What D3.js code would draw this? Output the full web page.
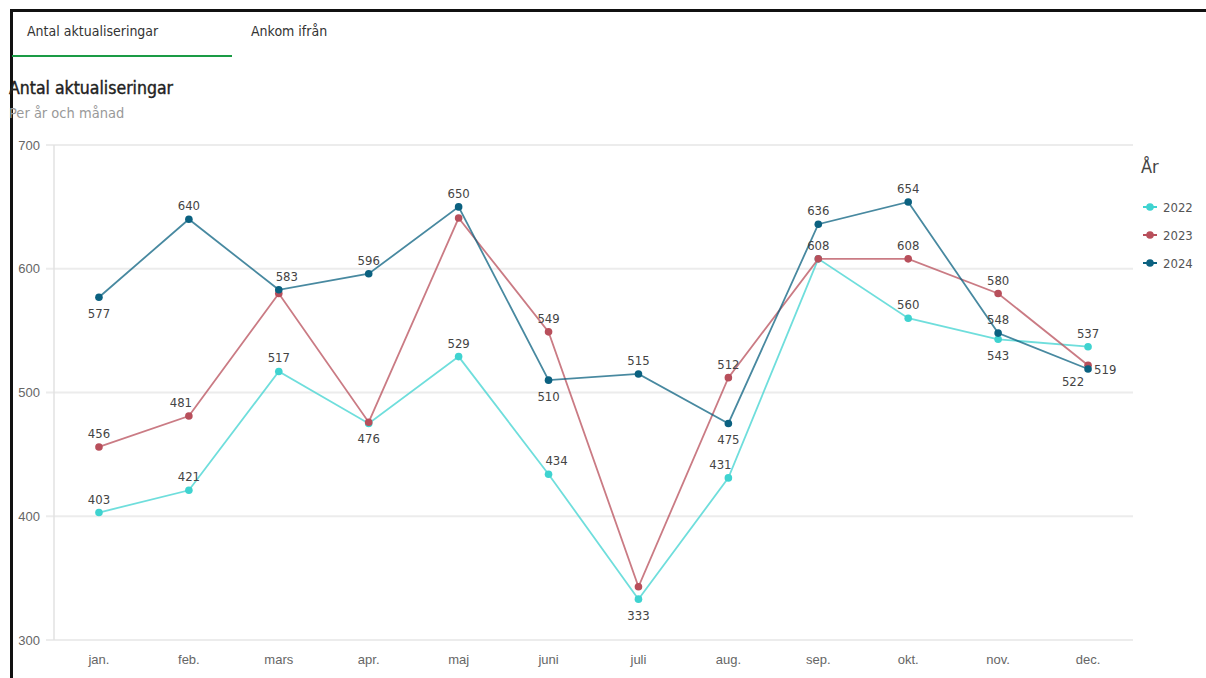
<!DOCTYPE html>
<html>
<head>
<meta charset="utf-8">
<script src="https://cdn.jsdelivr.net/npm/d3@7"></script>
<style>
  body { margin: 0; background: #fff; }
  svg { display: block; font-family: "Liberation Sans Narrow", "DejaVu Sans Condensed", Roboto, sans-serif; }
</style>
</head>
<body>
<svg id="chart" width="1206" height="678"></svg>
<script>
const months = ['jan.', 'feb.', 'mars', 'apr.', 'maj', 'juni', 'juli', 'aug.', 'sep.', 'okt.', 'nov.', 'dec.'];
const years = ['2022', '2023', '2024'];
const v2022 = [403, 421, 517, 475, 529, 434, 333, 431, 608, 560, 543, 537];
const v2023 = [456, 481, 580, 476, 641, 549, 343, 512, 608, 608, 580, 522];
const v2024 = [577, 640, 583, 596, 650, 510, 515, 475, 636, 654, 548, 519];
const yTicks = [300, 400, 500, 600, 700];
// which labels show and where (a = above, b = below, r = right, n = none)
const lab2022 = ['a', 'a', 'a', 'n', 'a', 'ar', 'b', 'al', 'n', 'a', 'b', 'a'];
const lab2023 = ['a', 'al', 'n', 'b', 'n', 'a', 'n', 'a', 'a', 'a', 'a', 'bl'];
const lab2024 = ['b', 'a', 'ar', 'a', 'a', 'b', 'a', 'b', 'a', 'a', 'a', 'r'];

const colors = { '2022': '#3fd3d0', '2023': '#b84f5b', '2024': '#0b6180' };
const series = [
  { year: '2022', values: v2022, labels: lab2022 },
  { year: '2023', values: v2023, labels: lab2023 },
  { year: '2024', values: v2024, labels: lab2024 }
];

const svg = d3.select('#chart');

// frame
svg.append('line').attr('x1', 11.5).attr('x2', 11.5).attr('y1', 9).attr('y2', 678).attr('stroke', '#111').attr('stroke-width', 3);
svg.append('line').attr('x1', 10).attr('x2', 1206).attr('y1', 10.5).attr('y2', 10.5).attr('stroke', '#111').attr('stroke-width', 3);

// tabs
svg.append('text').attr('x', 27).attr('y', 36).text('Antal aktualiseringar')
  .attr('font-size', 14).attr('fill', '#333');
svg.append('text').attr('x', 251).attr('y', 36).text('Ankom ifrån')
  .attr('font-size', 14).attr('fill', '#333');
svg.append('line').attr('x1', 12).attr('x2', 232).attr('y1', 56).attr('y2', 56)
  .attr('stroke', '#1a9b45').attr('stroke-width', 2);

// title
svg.append('text').attr('x', 9).attr('y', 94).text('Antal aktualiseringar')
  .attr('font-size', 17.5).attr('fill', '#222').attr('stroke', '#222').attr('stroke-width', 0.4);
svg.append('text').attr('x', 9).attr('y', 118).text('Per år och månad')
  .attr('font-size', 14.5).attr('fill', '#999');

const mLeft = 54, mRight = 1133, mTop = 145, mBottom = 640;

const x = d3.scaleBand().domain(months).range([mLeft, mRight]);
const y = d3.scaleLinear().domain([300, 700]).range([mBottom, mTop]);

// gridlines
svg.append('g').selectAll('line').data(yTicks).join('line')
  .attr('x1', mLeft - 8).attr('x2', mRight)
  .attr('y1', d => y(d)).attr('y2', d => y(d))
  .attr('stroke', '#ececec').attr('stroke-width', 2);

svg.append('line').attr('x1', mLeft).attr('x2', mLeft).attr('y1', mTop).attr('y2', mBottom)
  .attr('stroke', '#e2e2e2').attr('stroke-width', 1.5);

const yAxis = svg.append('g').attr('transform', `translate(${mLeft},0)`)
  .call(d3.axisLeft(y).tickValues(yTicks).tickSize(0).tickPadding(14));
yAxis.select('.domain').remove();
yAxis.selectAll('text').attr('font-size', 13).attr('fill', '#666').attr('font-family', 'inherit');

const xAxis = svg.append('g').attr('transform', `translate(0,${mBottom})`)
  .call(d3.axisBottom(x).tickSize(0).tickPadding(15));
xAxis.select('.domain').remove();
xAxis.selectAll('text').attr('font-size', 13).attr('fill', '#666').attr('font-family', 'inherit');

const cx = (d, i) => x(months[i]) + x.bandwidth() / 2;
const line = d3.line().x(cx).y(d => y(d));

series.forEach(s => {
  const g = svg.append('g');
  g.append('path').datum(s.values).attr('d', line)
    .attr('fill', 'none').attr('stroke', colors[s.year]).attr('stroke-width', 1.8).attr('stroke-opacity', 0.75);
  g.selectAll('circle').data(s.values).join('circle')
    .attr('cx', cx).attr('cy', d => y(d)).attr('r', 3.8).attr('fill', colors[s.year]);
});

// data labels
series.forEach(s => {
  const pts = s.values.map((v, i) => ({ v, i, p: s.labels[i] })).filter(d => d.p !== 'n');
  svg.append('g').selectAll('text').data(pts).join('text')
    .attr('x', d => {
      const px = x(months[d.i]) + x.bandwidth() / 2;
      if (d.p === 'r') return px + 6;
      if (d.p === 'ar') return px + 8;
      if (d.p === 'al') return px - 8;
      if (d.p === 'bl') return px - 15;
      return px;
    })
    .attr('y', d => {
      if (d.p[0] === 'b') return y(d.v) + 21;
      if (d.p === 'r') return y(d.v) + 5;
      return y(d.v) - 9;
    })
    .attr('text-anchor', d => d.p === 'r' ? 'start' : 'middle')
    .attr('font-size', 13).attr('fill', '#444')
    .text(d => d.v);
});

// legend
svg.append('text').attr('x', 1141).attr('y', 173).text('År').attr('font-size', 18).attr('fill', '#444');
const lg = svg.append('g').selectAll('g').data(years).join('g')
  .attr('transform', (d, i) => `translate(1143,${207 + i * 28})`);
lg.append('line').attr('x1', 0).attr('x2', 14).attr('stroke', d => colors[d]).attr('stroke-width', 2);
lg.append('circle').attr('cx', 7).attr('r', 3.8).attr('fill', d => colors[d]);
lg.append('text').attr('x', 20).attr('y', 5).text(d => d).attr('font-size', 13).attr('fill', '#555');
</script>
</body>
</html>
